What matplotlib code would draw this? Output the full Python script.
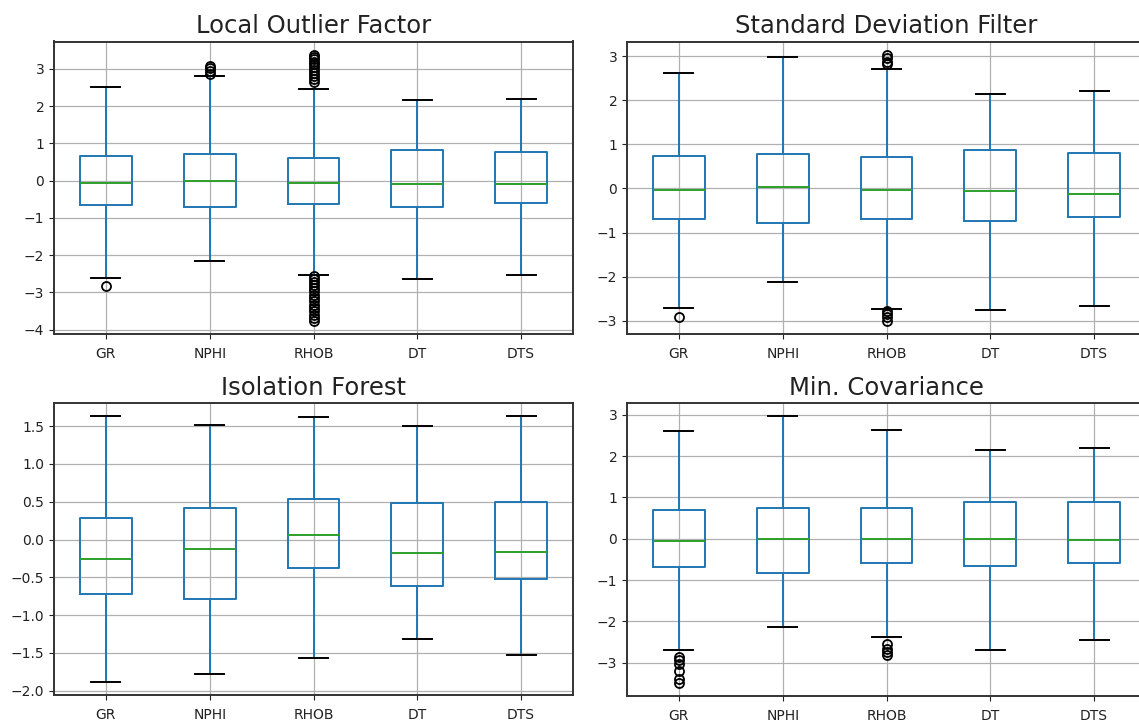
import matplotlib
matplotlib.use("Agg")
import matplotlib.pyplot as plt

# ---------------- data ----------------
features = ["GR", "NPHI", "RHOB", "DT", "DTS"]
titles = ["Local Outlier Factor", "Standard Deviation Filter",
          "Isolation Forest", "Min. Covariance"]

# Local Outlier Factor
lof_lo = [-2.61, -2.16, -2.52, -2.63, -2.54]
lof_q1 = [-0.65, -0.71, -0.63, -0.71, -0.61]
lof_med = [-0.06, 0.00, -0.06, -0.08, -0.08]
lof_q3 = [0.67, 0.71, 0.62, 0.82, 0.77]
lof_hi = [2.52, 2.80, 2.46, 2.16, 2.20]
lof_fliers = [
    [-2.83],
    [2.87, 2.95, 3.02, 3.08],
    [2.66, 2.74, 2.82, 2.90, 2.98, 3.05, 3.12, 3.19, 3.26, 3.32, 3.38,
     -2.55, -2.63, -2.71, -2.79, -2.88, -2.97, -3.06, -3.15, -3.24,
     -3.33, -3.42, -3.51, -3.60, -3.68, -3.76],
    [],
    [],
]

# Standard Deviation Filter
sdf_lo = [-2.72, -2.12, -2.74, -2.76, -2.66]
sdf_q1 = [-0.69, -0.78, -0.69, -0.74, -0.65]
sdf_med = [-0.04, 0.04, -0.04, -0.07, -0.13]
sdf_q3 = [0.73, 0.77, 0.71, 0.86, 0.81]
sdf_hi = [2.61, 2.99, 2.71, 2.13, 2.22]
sdf_fliers = [
    [-2.91],
    [],
    [2.82, 2.87, 2.95, 3.03, -2.78, -2.85, -2.92, -3.00],
    [],
    [],
]

# Isolation Forest
ifo_lo = [-1.88, -1.78, -1.56, -1.31, -1.52]
ifo_q1 = [-0.72, -0.78, -0.38, -0.61, -0.52]
ifo_med = [-0.26, -0.13, 0.06, -0.18, -0.16]
ifo_q3 = [0.29, 0.42, 0.54, 0.48, 0.49]
ifo_hi = [1.63, 1.52, 1.62, 1.50, 1.63]
ifo_fliers = [[], [], [], [], []]

# Min. Covariance
mcd_lo = [-2.70, -2.14, -2.38, -2.70, -2.44]
mcd_q1 = [-0.69, -0.82, -0.58, -0.66, -0.58]
mcd_med = [-0.06, 0.00, 0.00, 0.00, -0.02]
mcd_q3 = [0.69, 0.74, 0.74, 0.88, 0.88]
mcd_hi = [2.61, 2.96, 2.64, 2.14, 2.20]
mcd_fliers = [
    [-2.86, -2.94, -3.02, -3.20, -3.38, -3.48],
    [],
    [-2.54, -2.66, -2.75, -2.82],
    [],
    [],
]

methods = [
    (lof_lo, lof_q1, lof_med, lof_q3, lof_hi, lof_fliers),
    (sdf_lo, sdf_q1, sdf_med, sdf_q3, sdf_hi, sdf_fliers),
    (ifo_lo, ifo_q1, ifo_med, ifo_q3, ifo_hi, ifo_fliers),
    (mcd_lo, mcd_q1, mcd_med, mcd_q3, mcd_hi, mcd_fliers),
]

# ---------------- figure ----------------
W, H = 1139, 722
fig = plt.figure(figsize=(W / 100, H / 100), dpi=100)

def frac_rect(x0, y0, x1, y1):
    return [x0 / W, 1 - y1 / H, (x1 - x0) / W, (y1 - y0) / H]

rects = [
    frac_rect(54, 41.5, 573, 334),
    frac_rect(627, 41.5, 1146, 334),
    frac_rect(54, 403, 573, 695),
    frac_rect(627, 403, 1146, 696),
]

blue = "#1f77b4"
for rect, title, (lo, q1, med, q3, hi, fl) in zip(rects, titles, methods):
    ax = fig.add_axes(rect)
    stats = []
    for i, name in enumerate(features):
        stats.append(dict(label=name, whislo=lo[i], q1=q1[i], med=med[i],
                          q3=q3[i], whishi=hi[i], fliers=fl[i]))
    ax.bxp(stats, widths=0.5, capwidths=0.28,
           boxprops=dict(color=blue, linewidth=1.4),
           whiskerprops=dict(color=blue, linewidth=1.4),
           capprops=dict(color="black", linewidth=1.4),
           medianprops=dict(color="#2ca02c", linewidth=1.4),
           flierprops=dict(marker="o", markerfacecolor="none",
                           markeredgecolor="black", markersize=6.5,
                           markeredgewidth=1.3))
    ax.grid(True, color="#b0b0b0", linewidth=0.9)
    ax.set_axisbelow(True)
    ax.set_title(title, fontsize=17.5, color="#222222", pad=6)
    ax.tick_params(axis="both", labelsize=10, colors="#222222")
    ax.tick_params(axis="x", pad=6)
    for sp in ax.spines.values():
        sp.set_linewidth(1.4)
        sp.set_color("#333333")

fig.savefig("out.png", dpi=100)
